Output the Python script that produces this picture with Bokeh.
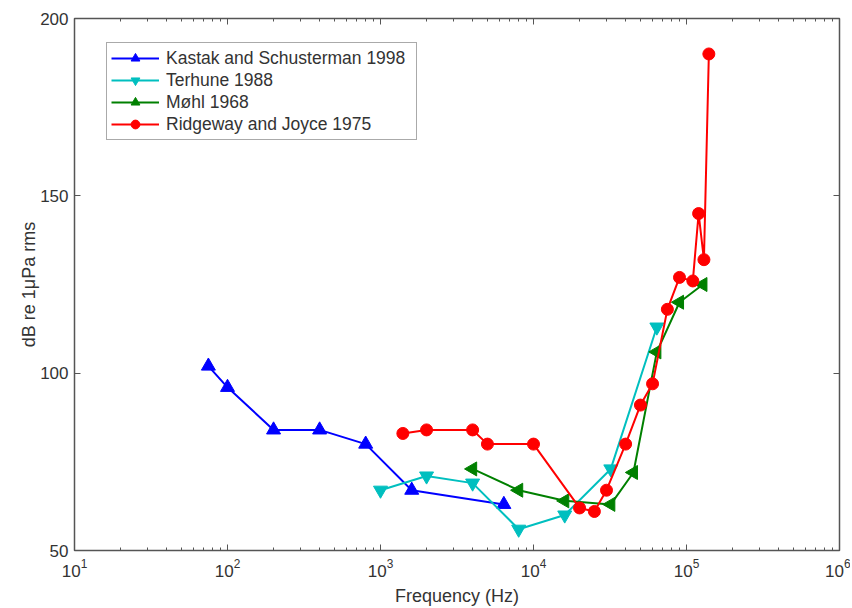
import numpy as np
from bokeh.plotting import figure
from bokeh.models import Range1d, LogAxis, LinearAxis, FixedTicker, LogTicker, Legend
from bokeh.embed import file_html
from bokeh.resources import INLINE

# Kastak and Schusterman 1998
ks_f = [75, 100, 200, 400, 800, 1600, 6400]
ks_db = [102, 96, 84, 84, 80, 67, 63]
# Terhune 1988
te_f = [1000, 2000, 4000, 8000, 16000, 32000, 64000]
te_db = [67, 71, 69, 56, 60, 73, 113]
# Mohl 1968
mo_f = [4000, 8000, 16000, 32000, 45000, 64000, 90000, 128000]
mo_db = [73, 67, 64, 63, 72, 106, 120, 125]
# Ridgeway and Joyce 1975
rj_f = [1400, 2000, 4000, 5000, 10000, 20000, 25000, 30000, 40000, 50000,
        60000, 75000, 90000, 110000, 120000, 130000, 140000]
rj_db = [83, 84, 84, 80, 80, 62, 61, 67, 80, 91, 97, 118, 127, 126, 145, 132, 190]

y_ticks = [50, 100, 150, 200]

FONT = "Liberation Sans"
AX = "#555555"

p = figure(width=850, height=608, x_axis_type="log",
           x_range=Range1d(10, 1e6), y_range=Range1d(50, 200),
           output_backend="svg", toolbar_location=None,
           min_border_left=74, min_border_right=11, min_border_top=18, min_border_bottom=55)
p.grid.visible = False
p.outline_line_color = AX
p.outline_line_width = 1.5

xa = p.xaxis[0]
xa.axis_label = "Frequency (Hz)"
ya = p.yaxis[0]
ya.axis_label = "dB re 1\u03bcPa rms"
ya.ticker = FixedTicker(ticks=y_ticks)
for ax in (xa, ya):
    ax.axis_line_color = AX
    ax.major_tick_line_color = AX
    ax.minor_tick_line_color = AX
    ax.major_tick_in = 6
    ax.major_tick_out = 0
    ax.minor_tick_in = 3
    ax.minor_tick_out = 0
    ax.major_label_text_font = FONT
    ax.major_label_text_font_size = "17px"
    ax.major_label_text_color = "#333333"
    ax.axis_label_text_font = FONT
    ax.axis_label_text_font_size = "18px"
    ax.axis_label_text_font_style = "normal"
    ax.axis_label_text_color = "#333333"
xa.major_label_standoff = 8
xa.axis_label_standoff = 6
ya.major_label_standoff = 6
ya.axis_label_standoff = -2

top = LogAxis(ticker=LogTicker(num_minor_ticks=10), major_label_text_font_size="0px",
              major_tick_in=6, major_tick_out=0, minor_tick_in=3, minor_tick_out=0,
              axis_line_color=AX, major_tick_line_color=AX, minor_tick_line_color=AX)
top.major_label_text_alpha = 0
p.add_layout(top, "above")
right = LinearAxis(ticker=FixedTicker(ticks=y_ticks), major_label_text_font_size="0px",
                   major_tick_in=6, major_tick_out=0, minor_tick_in=0, minor_tick_out=0,
                   axis_line_color=AX, major_tick_line_color=AX)
right.major_label_text_alpha = 0
p.add_layout(right, "right")

series = [
    ("Kastak and Schusterman 1998", ks_f, ks_db, "#0000ff", "triangle", 0.0, 14),
    ("Terhune 1988", te_f, te_db, "#00bfbf", "inverted_triangle", 0.0, 14),
    ("M\u00f8hl 1968", mo_f, mo_db, "#008000", "triangle", np.pi / 2, 14),
    ("Ridgeway and Joyce 1975", rj_f, rj_db, "#ff0000", "circle", 0.0, 12),
]
items = []
for name, f, db, col, mk, ang, sz in series:
    l = p.line(f, db, line_color=col, line_width=2)
    s = p.scatter(f, db, marker=mk, angle=ang, size=sz, fill_color=col, line_color=col)
    items.append((name, [l, s]))

leg = Legend(items=items, location=(32, 410))
leg.label_text_font = FONT
leg.label_text_font_size = "17.5px"
leg.label_text_color = "#333333"
leg.border_line_color = AX
leg.border_line_width = 1.5
leg.glyph_width = 48
leg.glyph_height = 22
leg.spacing = 0
leg.padding = 4
leg.label_standoff = 7
leg.label_width = 246
leg.margin = 0
p.add_layout(leg)

open("out.html", "w").write(file_html(p, INLINE))
